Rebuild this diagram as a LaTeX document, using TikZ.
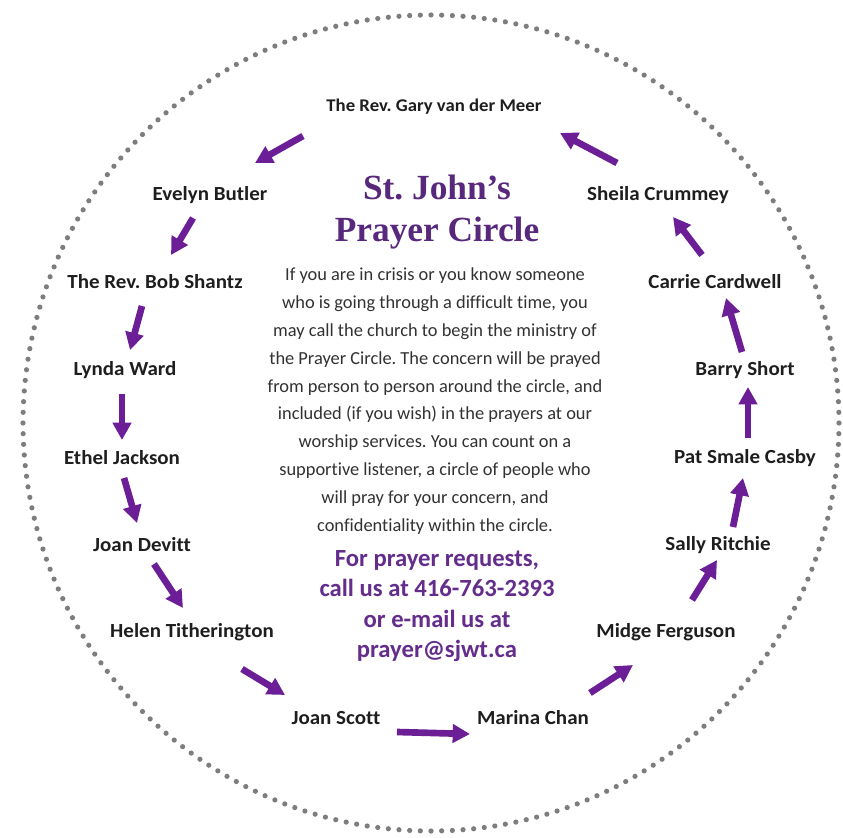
\documentclass[tikz,border=0pt]{standalone}
\usepackage{fontspec}
\setmainfont[Ligatures=NoCommon]{Carlito}
\newfontfamily\titlefont{Liberation Serif}
\newfontfamily\namefont[Ligatures=NoCommon,FakeStretch=1.05]{Carlito}
\usetikzlibrary{arrows.meta,calc}
\definecolor{arrowpurple}{RGB}{108,30,150}
\definecolor{titlepurple}{RGB}{88,40,125}
\definecolor{contactpurple}{RGB}{100,45,140}
\definecolor{namegray}{RGB}{30,30,30}
\definecolor{bodygray}{RGB}{50,50,50}
\definecolor{dotgray}{RGB}{125,125,125}
\frenchspacing
\begin{document}
\begin{tikzpicture}[x=0.75pt,y=-0.75pt,
  person/.style={font=\namefont\fontsize{15}{17}\selectfont\bfseries, text=namegray, inner sep=0pt},
  smallperson/.style={person, font=\namefont\fontsize{13.4}{16}\selectfont\bfseries},
  flow/.style={arrowpurple, line width=5pt, -{Triangle[length=13pt,width=13.5pt]}},
  dot/.style={fill=dotgray},
]
\fill[white] (0,0) rectangle (843,838);
\useasboundingbox (0,0) rectangle (843,838);

% dotted ring
\foreach \i in {0,...,239}
  \fill[dot] ($(431,423)+(\i*1.5:408)$) circle (2.6);

% title and texts
\node[font=\titlefont\bfseries\fontsize{26.5}{32}\selectfont, text=titlepurple, align=center, inner sep=0pt] (title) at (437,212) {St. John’s\\Prayer Circle};

\node[font=\frenchspacing\fontsize{13.8}{20.85}\selectfont, text=bodygray, align=center, inner sep=0pt] (body) at (435,401) {If you are in crisis or you know someone\\
who is going through a difficult time, you\\
may call the church to begin the ministry of\\
the Prayer Circle. The concern will be prayed\\
from person to person around the circle, and\\
included (if you wish) in the prayers at our\\
worship services. You can count on a\\
supportive listener, a circle of people who\\
will pray for your concern, and\\
confidentiality within the circle.};

\node[font=\fontsize{18.5}{22.7}\selectfont\bfseries, text=contactpurple, align=center, inner sep=0pt] (contact) at (437,606) {For prayer requests,\\call us at 416-763-2393\\or e-mail us at\\prayer@sjwt.ca};

% people
\node[smallperson] (gary) at (434,107) {The Rev. Gary van der Meer};
\node[person] (evelyn) at (210,195) {Evelyn Butler};
\node[person] (bob) at (155,282) {The Rev. Bob Shantz};
\node[person] (lynda) at (125,370) {Lynda Ward};
\node[person] (ethel) at (122,458) {Ethel Jackson};
\node[person] (joand) at (142,545) {Joan Devitt};
\node[person] (helen) at (192,632) {Helen Titherington};
\node[person] (joans) at (336,718) {Joan Scott};
\node[person] (marina) at (533,718) {Marina Chan};
\node[person] (midge) at (666,632) {Midge Ferguson};
\node[person] (sally) at (718,545) {Sally Ritchie};
\node[person] (pat) at (745,458) {Pat Smale Casby};
\node[person] (barry) at (745,370) {Barry Short};
\node[person] (carrie) at (715,282) {Carrie Cardwell};
\node[person] (sheila) at (658,195) {Sheila Crummey};

% arrow end points
\coordinate (a1s) at (303,136); \coordinate (a1e) at (255,163);
\coordinate (a2s) at (193,218); \coordinate (a2e) at (171,255);
\coordinate (a3s) at (142,306); \coordinate (a3e) at (130,350);
\coordinate (a4s) at (122,394); \coordinate (a4e) at (122,440);
\coordinate (a5s) at (124,478); \coordinate (a5e) at (137,523);
\coordinate (a6s) at (154,564); \coordinate (a6e) at (183,608);
\coordinate (a7s) at (242,669); \coordinate (a7e) at (285,695);
\coordinate (a8s) at (397,732); \coordinate (a8e) at (470,734);
\coordinate (a9s) at (590,693); \coordinate (a9e) at (633,665);
\coordinate (a10s) at (692,600); \coordinate (a10e) at (717,560);
\coordinate (a11s) at (733,527); \coordinate (a11e) at (743,478);
\coordinate (a12s) at (748,438); \coordinate (a12e) at (748,387);
\coordinate (a13s) at (742,352); \coordinate (a13e) at (726,298);
\coordinate (a14s) at (702,255); \coordinate (a14e) at (673,217);
\coordinate (a15s) at (617,163); \coordinate (a15e) at (560,133);

\foreach \k in {1,...,15}
  \draw[flow] (a\k s) -- (a\k e);
\end{tikzpicture}
\end{document}
